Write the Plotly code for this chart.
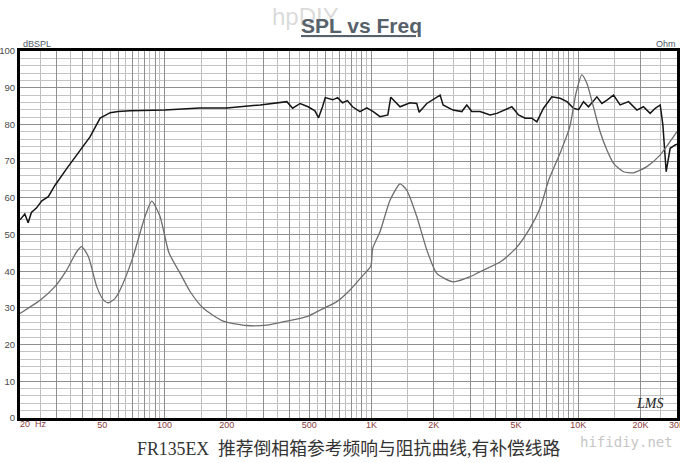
import plotly.graph_objects as go

# ---- data ----
spl_freq = [20, 21.1, 21.9, 22.7, 24, 25.5, 27.4, 29.6, 33.7, 39, 43.6, 48.8, 54.6, 59.6, 68,
            100, 148, 200, 290, 390, 416, 452, 494, 533, 555, 580, 598, 650, 686, 725, 765,
            810, 880, 950, 1020, 1100, 1200, 1240, 1375, 1537, 1656, 1700, 1852, 2148, 2220,
            2481, 2734, 2890, 3055, 3350, 3745, 4037, 4772, 5140, 5540, 5960, 6305, 6790,
            7450, 8170, 8810, 9490, 10030, 10600, 11200, 12300, 13000, 13750, 14800, 15930,
            17500, 19200, 20650, 22250, 23540, 24890, 25640, 26600, 27800, 29400, 30000]
spl_db = [54.0, 55.6, 53.2, 56.0, 57.2, 59.2, 60.3, 63.5, 68.0, 73.0, 76.6, 81.7, 83.2, 83.5, 83.7,
          83.9, 84.5, 84.5, 85.3, 86.2, 84.4, 85.7, 84.8, 83.7, 81.8, 84.8, 87.3, 86.7, 87.3, 85.9, 86.5,
          84.8, 83.5, 84.5, 83.5, 82.1, 82.6, 87.4, 84.8, 85.9, 85.7, 83.3, 85.7, 88.0, 85.3,
          83.9, 83.5, 85.3, 83.5, 83.5, 82.6, 83.0, 84.8, 82.6, 81.7, 81.7, 80.7, 84.4,
          87.5, 87.1, 86.2, 84.4, 84.0, 86.2, 84.8, 87.5, 85.7, 86.6, 88.0, 85.3,
          86.2, 83.9, 84.8, 83.0, 84.4, 85.3, 79.8, 67.1, 73.5, 74.4, 74.6]

imp_freq = [20, 25, 29.5, 33.6, 37.6, 39.7, 42.8, 47.0, 50.6, 53.5, 57.6, 60.9, 70, 80, 86.7,
            95, 105, 119, 133, 154, 192, 249, 312, 390, 487, 565, 680, 788, 898, 993, 1014,
            1101, 1231, 1375, 1481, 1656, 1852, 2070, 2490, 3000, 3350, 4190, 5000, 5850,
            6540, 7200, 8170, 9100, 9750, 10400, 11000, 11830, 12750, 13750, 14800, 16550,
            18500, 21450, 24900, 30000]
imp_val = [28.5, 32.1, 35.8, 40.3, 45.3, 46.7, 44.0, 35.8, 32.2, 31.4, 32.6, 34.9, 43.5, 54.5, 59.1,
           55.0, 45.0, 39.4, 34.4, 29.9, 26.4, 25.2, 25.3, 26.4, 27.6, 29.4, 31.7, 34.9, 38.5, 41.4, 46.2,
           50.8, 59.4, 63.8, 62.1, 54.9, 45.8, 39.4, 37.1, 38.5, 39.9, 42.5, 46.3, 51.8,
           57.2, 64.9, 72.2, 79.4, 88.5, 93.5, 91.2, 84.8, 78.0, 73.0, 69.4, 67.1,
           66.8, 68.5, 71.7, 78.0]

# x grid: integer multiples carry the (partly empty) tick labels, half multiples are minor lines
x_major = [20, 30, 40, 50, 60, 70, 80, 90, 100, 200, 300, 400, 500, 600, 700, 800, 900,
           1000, 2000, 3000, 4000, 5000, 6000, 7000, 8000, 9000, 10000, 20000, 30000]
x_labels = {50: "50", 100: "100", 200: "200", 500: "500", 1000: "1K",
            2000: "2K", 5000: "5K", 10000: "10K", 20000: "20K", 30000: "30K"}
x_first_label = "20  Hz"
x_minor = [25, 35, 45, 55, 65, 75, 85, 95, 150, 250, 350, 450, 550, 650, 750, 850, 950,
           1500, 2500, 3500, 4500, 5500, 6500, 7500, 8500, 9500, 15000, 25000]
y_ticks = [0, 10, 20, 30, 40, 50, 60, 70, 80, 90, 100]

L, R, T, B = 20, 677, 51, 418  # plot frame in pixels

fig = go.Figure()
fig.add_trace(go.Scatter(x=imp_freq, y=imp_val, mode="lines", name="Impedance",
                         line=dict(color="#6e6e6e", width=1.3, shape="spline", smoothing=0.6),
                         yaxis="y2"))
fig.add_trace(go.Scatter(x=spl_freq, y=spl_db, mode="lines", name="SPL",
                         line=dict(color="#151515", width=1.5)))

fig.update_layout(
    width=680, height=463,
    margin=dict(l=L, r=680 - R, t=T, b=463 - B),
    paper_bgcolor="white", plot_bgcolor="white",
    showlegend=False,
    xaxis=dict(type="log", range=[1.30103, 4.47715],
               tickmode="array", tickvals=x_major,
               ticktext=[x_labels.get(v, "") for v in x_major],
               tickfont=dict(family="Liberation Sans", size=9, color="#8a3b3b"),
               ticklabeloverflow="allow", ticklabelstandoff=-4,
               ticks="", showgrid=True, gridcolor="#8f8f8f", gridwidth=1,
               minor=dict(tickvals=x_minor, showgrid=True, gridcolor="#bdbdbd", gridwidth=1, ticks=""),
               showline=True, linecolor="black", linewidth=3, mirror=True,
               zeroline=False, automargin=False),
    yaxis=dict(range=[0, 100], tickmode="array", tickvals=y_ticks,
               tickfont=dict(family="Liberation Sans", size=9.5, color="#4a4a4a"),
               ticks="", showgrid=True, gridcolor="#8f8f8f", gridwidth=1,
               minor=dict(dtick=2, showgrid=True, gridcolor="#c4c4c4", gridwidth=1, ticks=""),
               showline=True, linecolor="black", linewidth=3, mirror=True,
               zeroline=False, automargin=False),
    yaxis2=dict(range=[0, 100], overlaying="y", side="right", showticklabels=False,
                showgrid=False, zeroline=False, ticks=""),
)


def px(x, y):
    return (x - L) / (R - L), (B - y) / (B - T)


ann_specs = [
    ("hpDIY", 305, 17, "center", dict(family="Liberation Sans", size=24, color="rgba(150,150,150,0.35)")),
    ("<b><u>SPL vs Freq</u></b>", 361, 26, "center", dict(family="Liberation Sans", size=21, color="#56616a")),
    ("dBSPL", 21, 44, "left", dict(family="Liberation Sans", size=9, color="#4e5a66")),
    ("Ohm", 678, 44, "right", dict(family="Liberation Sans", size=9, color="#4e5a66")),
    ("LMS", 649, 403, "center", dict(family="Liberation Serif", size=14, color="#222", style="italic")),
    ("FR135EX  推荐倒相箱参考频响与阻抗曲线,有补偿线路", 349, 449, "center",
     dict(family="Liberation Serif, Noto Sans CJK SC", size=17.8, color="#333")),
    ("hifidiy.net", 626, 442, "center", dict(family="DejaVu Sans Mono", size=14, color="#c6c6c6")),
    (x_first_label, 18, 424, "left", dict(family="Liberation Sans", size=9, color="#8a3b3b")),
]
ann = []
for text, x, y, xa, font in ann_specs:
    ax, ay = px(x, y)
    ann.append(dict(text=text, x=ax, y=ay, xref="paper", yref="paper", xanchor=xa,
                    yanchor="middle", showarrow=False, font=font))
fig.update_layout(annotations=ann)

fig.write_html("out.html", config={"displayModeBar": False})
with open("out.html", encoding="utf-8") as f:
    html = f.read()
html = html.replace("<head>", "<head><style>html,body{margin:0;padding:0;overflow:hidden;}</style>", 1)
with open("out.html", "w", encoding="utf-8") as f:
    f.write(html)
